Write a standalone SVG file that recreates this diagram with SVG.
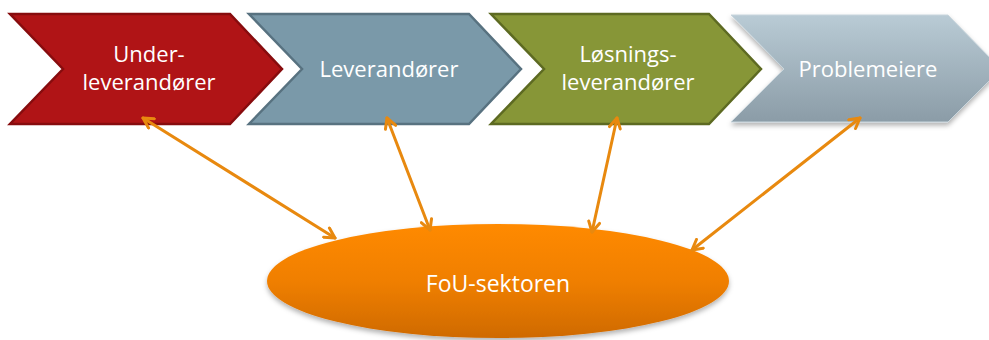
<svg xmlns="http://www.w3.org/2000/svg" width="989" height="340" viewBox="0 0 989 340">
<style>
.lbl{font-family:"Open Sans","Liberation Sans",Arial,sans-serif;font-size:22px;fill:#ffffff;text-anchor:middle}
.conn line{stroke:#E8890F;stroke-width:3;stroke-linecap:round;marker-start:url(#ah);marker-end:url(#ah)}
</style>
<defs>
<linearGradient id="g4" x1="0" y1="0" x2="0" y2="1">
<stop offset="0" stop-color="#B9CBD5"/>
<stop offset="1" stop-color="#8B9CA7"/>
</linearGradient>
<linearGradient id="ge" x1="0" y1="0" x2="0" y2="1">
<stop offset="0" stop-color="#FF8A00"/>
<stop offset="0.5" stop-color="#F07F00"/>
<stop offset="1" stop-color="#CF6A04"/>
</linearGradient>
<filter id="sh" x="-10%" y="-20%" width="120%" height="150%">
<feDropShadow dx="0" dy="3" stdDeviation="2.5" flood-color="#000" flood-opacity="0.3"/>
</filter>
<marker id="ah" viewBox="0 0 14 14" refX="12" refY="7" markerWidth="14" markerHeight="14" markerUnits="userSpaceOnUse" orient="auto-start-reverse">
<path d="M2,1.5 L12,7 L2,12.5" fill="none" stroke="#E8890F" stroke-width="3" stroke-linecap="round" stroke-linejoin="round"/>
</marker>
</defs>
<rect width="989" height="340" fill="#ffffff"/>
<g id="node-underleverandorer">
<path d="M10,14 L230,14 L282,69 L230,124 L10,124 L63,69 Z" fill="#B01416" stroke="#870C0E" stroke-width="2.5"/>
<text class="lbl" x="149" y="62">Under-</text>
<text class="lbl" x="149" y="90">leverandører</text>
</g>
<g id="node-leverandorer">
<path d="M249,14 L469,14 L521,69 L469,124 L249,124 L302,69 Z" fill="#7A99A9" stroke="#587280" stroke-width="2.5"/>
<text class="lbl" x="389" y="77">Leverandører</text>
</g>
<g id="node-losningsleverandorer">
<path d="M491,14 L709,14 L761,69 L709,124 L491,124 L544,69 Z" fill="#879637" stroke="#5D6A22" stroke-width="2.5"/>
<text class="lbl" x="628" y="62">Løsnings-</text>
<text class="lbl" x="628" y="90">leverandører</text>
</g>
<g id="node-problemeiere">
<path d="M731,15 L948,15 L1001,69 L948,122 L731,122 L784,69 Z" fill="url(#g4)" stroke="#C9D6DD" stroke-width="1" filter="url(#sh)"/>
<text class="lbl" x="868" y="77" fill="#F3F6F8">Problemeiere</text>
</g>
<g id="node-fou-sektoren">
<ellipse cx="498" cy="281" rx="231" ry="57" fill="url(#ge)" filter="url(#sh)"/>
<text class="lbl" x="498" y="292" style="font-size:23px">FoU-sektoren</text>
</g>
<g id="connectors" class="conn">
<line x1="143" y1="118" x2="335" y2="238"/>
<line x1="387" y1="118" x2="430" y2="230"/>
<line x1="617" y1="118" x2="592" y2="232"/>
<line x1="860" y1="118" x2="692" y2="250"/>
</g>
</svg>
